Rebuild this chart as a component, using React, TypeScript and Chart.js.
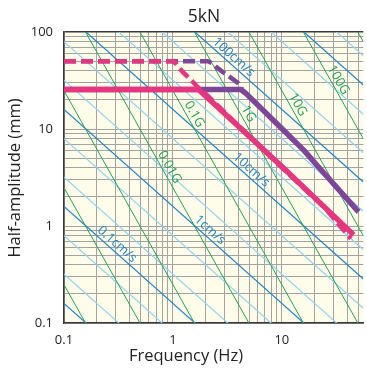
import React, { useEffect, useRef } from 'react';
import { Chart, registerables } from 'chart.js';

Chart.register(...registerables);

// ---------- text ----------
const chartTitle = '5kN';
const xAxisTitle = 'Frequency (Hz)';
const yAxisTitle = 'Half-amplitude (mm)';

// ---------- axes ----------
const X_MIN = 0.1;
const X_MAX = 56;
const Y_MIN = 0.1;
const Y_MAX = 100;
const xTickValues = [0.1, 1, 10];
const xTickLabels = ['0.1', '1', '10'];
const yTickValues = [0.1, 1, 10, 100];
const yTickLabels = ['0.1', '1', '10', '100'];

// ---------- reference lines ----------
// constant velocity lines (cm/s)
const velocityMajorCmS = [0.01, 0.1, 1, 10, 100, 1000];
const velocityMinorCmS = [0.02, 0.05, 0.2, 0.5, 2, 5, 20, 50, 200, 500, 2000];
// constant acceleration lines (G)
const accelG = [0.00001, 0.0001, 0.001, 0.01, 0.1, 1, 10, 100, 1000];

const velocityLabelValues = [100, 10, 1, 0.1];
const velocityLabelTexts = ['100cm/s', '10cm/s', '1cm/s', '0.1cm/s'];
const accelLabelValues = [100, 10, 1, 0.1, 0.01];
const accelLabelTexts = ['100G', '10G', '1G', '0.1G', '0.01G'];

// ---------- performance curves (frequency Hz, half-amplitude mm) ----------
const pinkSolidF = [0.1, 1.72, 10, 45.6];
const pinkSolidD = [25.5, 25.5, 4.1, 0.81];
const pinkDashF = [0.1, 1.0, 1.07, 1.145, 1.25, 1.38, 1.55, 1.72, 2.0, 10, 25, 43];
const pinkDashD = [50, 50, 47, 42.5, 38, 34.3, 30, 26.5, 23, 4.0, 1.52, 0.74];
const purpleSolidF = [0.1, 4.2, 4.6, 10.6, 16.1, 21.1, 50.6];
const purpleSolidD = [25.5, 25.5, 23.7, 9.5, 5.95, 4.2, 1.4];
const purpleDashF = [0.1, 2.1, 2.3, 2.5, 2.8, 3.1, 3.6, 4.0, 4.3];
const purpleDashD = [50, 50, 47.5, 43.5, 39.5, 36.4, 32.3, 29.4, 26];

// ---------- styles ----------
const FONT = '"Open Sans", "DejaVu Sans", sans-serif';
const BG = '#fffdea';
const GRID = '#a3a3a3';
const AXIS = '#3a3a3a';
const BLUE = '#2383c8';
const LIGHT_BLUE = '#93d2f0';
const GREEN = '#27a055';
const PINK = '#e6367f';
const PURPLE = '#7e4698';

// label placement along lines (frequency where label sits)
const velocityLabelAt = [3.27, 4.75, 1.98, 0.278];
const accelLabelAt = [29, 12.3, 4.34, 1.38, 0.817];

const velFn = (vCmS: number) => (f: number) => (vCmS * 10) / (2 * Math.PI * f);
const accFn = (g: number) => (f: number) => (g * 9806.65) / (4 * Math.PI * Math.PI * f * f);

const gridValues = (min: number, max: number) => {
  const out: number[] = [];
  for (let k = Math.floor(Math.log10(min)); k <= Math.ceil(Math.log10(max)); k++) {
    for (let m = 1; m <= 9; m++) {
      const v = Number((m * Math.pow(10, k)).toPrecision(6));
      if (v >= min - 1e-12 && v <= max + 1e-12) out.push(v);
    }
  }
  return out;
};

const labelFor = (values: number[], labels: string[]) => (v: number) => {
  const i = values.findIndex((t) => Math.abs(t - v) / t < 1e-6);
  return i >= 0 ? labels[i] : '';
};

const zip = (xs: number[], ys: number[]) => xs.map((x, i) => ({ x, y: ys[i] }));

const refLine = (fn: (f: number) => number, color: string, width: number) => ({
  data: [
    { x: X_MIN, y: fn(X_MIN) },
    { x: X_MAX, y: fn(X_MAX) },
  ],
  borderColor: color,
  borderWidth: width,
  pointRadius: 0,
  fill: false,
  tension: 0,
});

const curve = (xs: number[], ys: number[], color: string, width: number, dash?: number[]) => ({
  data: zip(xs, ys),
  borderColor: color,
  borderWidth: width,
  borderDash: dash || [],
  pointRadius: 0,
  fill: false,
  tension: 0,
  borderCapStyle: 'butt' as const,
  borderJoinStyle: 'round' as const,
});

const bgPlugin = {
  id: 'bgPlugin',
  beforeDraw(chart: any) {
    const { ctx, chartArea: a } = chart;
    ctx.save();
    ctx.fillStyle = '#ffffff';
    ctx.fillRect(0, 0, chart.width, chart.height);
    ctx.fillStyle = BG;
    ctx.fillRect(a.left, a.top, a.right - a.left, a.bottom - a.top);
    ctx.restore();
  },
};

const drawLineLabel = (
  chart: any,
  fn: (f: number) => number,
  f: number,
  text: string,
  color: string,
  offset: number,
) => {
  const xs = chart.scales.x;
  const ys = chart.scales.y;
  const ctx = chart.ctx;
  const f1 = f / 1.2;
  const f2 = f * 1.2;
  const x1 = xs.getPixelForValue(f1);
  const y1 = ys.getPixelForValue(fn(f1));
  const x2 = xs.getPixelForValue(f2);
  const y2 = ys.getPixelForValue(fn(f2));
  const ang = Math.atan2(y2 - y1, x2 - x1);
  const px = xs.getPixelForValue(f);
  const py = ys.getPixelForValue(fn(f));
  ctx.save();
  ctx.translate(px + Math.sin(ang) * offset, py - Math.cos(ang) * offset);
  ctx.rotate(ang);
  ctx.fillStyle = color;
  ctx.font = `13px ${FONT}`;
  ctx.textAlign = 'center';
  ctx.textBaseline = 'middle';
  ctx.fillText(text, 0, 0);
  ctx.restore();
};

const labelPlugin = {
  id: 'labelPlugin',
  afterDatasetsDraw(chart: any) {
    velocityLabelValues.forEach((v, i) =>
      drawLineLabel(chart, velFn(v), velocityLabelAt[i], velocityLabelTexts[i], BLUE, 7),
    );
    accelLabelValues.forEach((g, i) =>
      drawLineLabel(chart, accFn(g), accelLabelAt[i], accelLabelTexts[i], GREEN, 7),
    );
  },
  afterDraw(chart: any) {
    const ctx = chart.ctx;
    ctx.save();
    ctx.fillStyle = '#222';
    ctx.textAlign = 'center';
    ctx.textBaseline = 'middle';
    ctx.font = `17.5px ${FONT}`;
    ctx.fillText(chartTitle, 204, 17);
    ctx.font = `16.5px ${FONT}`;
    ctx.fillText(xAxisTitle, 186, 356);
    ctx.translate(15, 178);
    ctx.rotate(-Math.PI / 2);
    ctx.fillText(yAxisTitle, 0, 0);
    ctx.restore();
  },
};

export default function App() {
  const ref = useRef<HTMLCanvasElement>(null);

  useEffect(() => {
    if (!ref.current) return;
    const datasets: any[] = [
      curve(pinkSolidF, pinkSolidD, PINK, 5.5),
      curve(pinkDashF, pinkDashD, PINK, 4.5, [12, 5]),
      curve(purpleSolidF, purpleSolidD, PURPLE, 5.5),
      curve(purpleDashF, purpleDashD, PURPLE, 4.5, [12, 5]),
      ...accelG.map((g) => refLine(accFn(g), GREEN, 1.0)),
      ...velocityMajorCmS.map((v) => refLine(velFn(v), BLUE, 1.2)),
      ...velocityMinorCmS.map((v) => refLine(velFn(v), LIGHT_BLUE, 1.2)),
    ];

    const chart = new Chart(ref.current, {
      type: 'line',
      data: { datasets },
      plugins: [bgPlugin, labelPlugin],
      options: {
        responsive: false,
        animation: false,
        devicePixelRatio: 1,
        layout: { padding: { top: 32, left: 0, right: 0, bottom: 0 } },
        plugins: {
          legend: { display: false },
          tooltip: { enabled: false },
          title: { display: false },
        },
        scales: {
          x: {
            type: 'logarithmic',
            min: X_MIN,
            max: X_MAX,
            afterBuildTicks: (s: any) => {
              s.ticks = gridValues(X_MIN, X_MAX).map((value) => ({ value }));
            },
            afterFit: (s: any) => {
              s.height = 45;
            },
            grid: {
              color: GRID,
              lineWidth: 1,
              drawTicks: false,
            },
            border: { display: true, color: AXIS, width: 1.5 },
            ticks: {
              autoSkip: false,
              maxRotation: 0,
              minRotation: 0,
              padding: 9,
              color: '#222',
              font: { family: FONT, size: 13 },
              callback: (v: any) => labelFor(xTickValues, xTickLabels)(Number(v)),
            },
          },
          y: {
            type: 'logarithmic',
            min: Y_MIN,
            max: Y_MAX,
            afterBuildTicks: (s: any) => {
              s.ticks = gridValues(Y_MIN, Y_MAX).map((value) => ({ value }));
            },
            afterFit: (s: any) => {
              s.width = 64;
            },
            grid: {
              color: (c: any) => (c.tick && Math.abs(c.tick.value - Y_MAX) < 1e-6 ? AXIS : GRID),
              lineWidth: (c: any) => (c.tick && Math.abs(c.tick.value - Y_MAX) < 1e-6 ? 1.5 : 1),
              drawTicks: false,
            },
            border: { display: true, color: AXIS, width: 1.5 },
            ticks: {
              autoSkip: false,
              padding: 11,
              color: '#222',
              font: { family: FONT, size: 13 },
              callback: (v: any) => labelFor(yTickValues, yTickLabels)(Number(v)),
            },
          },
        },
      } as any,
    });
    return () => chart.destroy();
  }, []);

  return (
    <div style={{ position: 'fixed', left: 0, top: 0, width: 367, height: 368, background: '#fff' }}>
      <canvas ref={ref} width={367} height={368} style={{ display: 'block', width: 367, height: 368 }} />
    </div>
  );
}
